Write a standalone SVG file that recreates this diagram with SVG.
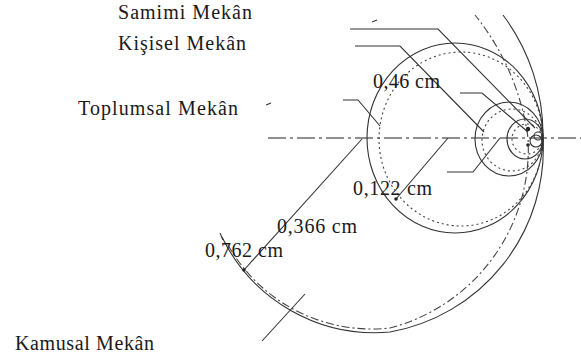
<svg xmlns="http://www.w3.org/2000/svg" width="581" height="362" viewBox="0 0 581 362">
<style>
.t{font-family:"Liberation Serif","Times New Roman",serif;font-size:20px;fill:#1a1a1a}
.s{fill:none;stroke:#333;stroke-width:1.1}
.d{fill:none;stroke:#444;stroke-width:1.1;stroke-dasharray:2 3}
.dd{fill:none;stroke:#444;stroke-width:1.1;stroke-dasharray:8 3 2 3}
.ax{fill:none;stroke:#222;stroke-width:1.2;stroke-dasharray:18 4 3 4}
</style>
<rect width="581" height="362" fill="#fff"/>
<g id="axis"><line class="ax" x1="268" y1="138" x2="581" y2="138"/></g>
<g id="circles">
<ellipse class="s" cx="455" cy="138" rx="88" ry="95"/>
<ellipse class="d" cx="461" cy="139" rx="82" ry="87"/>
<ellipse class="s" cx="509" cy="139" rx="34" ry="37"/>
<ellipse class="d" cx="512" cy="140" rx="30" ry="31"/>
<ellipse class="s" cx="525" cy="139" rx="18" ry="20"/>
<circle class="d" cx="527" cy="139" r="15"/>
<circle class="s" cx="536" cy="141" r="6"/>
<circle class="s" cx="538" cy="136" r="4"/>
<circle cx="528" cy="129" r="2.2" fill="#222"/>
<circle cx="528" cy="145" r="1.8" fill="#222"/>
<path class="s" d="M222,237 A170,170 0 0 0 390,332 A186,186 0 0 0 543,138 A200,200 0 0 0 503,15"/>
<path class="dd" d="M228,245 A165,165 0 0 0 390,328 A185,185 0 0 0 528,138 A250,250 0 0 0 475,15"/>
</g>
<g id="connectors">
<polyline class="s" points="350,29 438,29 535,128"/>
<polyline class="s" points="355,46 400,46 484,132"/>
<polyline class="s" points="460,93 482,93 528,132"/>
<polyline class="s" points="343,100 358,100 380,126"/>
<polyline class="s" points="500,138 473,172 447,172"/>
<line class="s" x1="362" y1="139" x2="244" y2="270"/>
<circle cx="244" cy="270" r="1.8" fill="#222"/>
<line class="s" x1="448" y1="138" x2="396" y2="199"/>
<circle cx="396" cy="199" r="1.8" fill="#222"/>
<line class="s" x1="262" y1="341" x2="305" y2="294"/>
<line class="s" x1="220" y1="233" x2="223" y2="240"/>
<line class="s" x1="266" y1="105" x2="271" y2="103"/>
<line class="s" x1="372" y1="22" x2="377" y2="20"/>
</g>
<g id="labels">
<text class="t" x="118" y="19" textLength="134" lengthAdjust="spacing">Samimi Mekân</text>
<text class="t" x="118" y="50" textLength="128" lengthAdjust="spacing">Kişisel Mekân</text>
<text class="t" x="78" y="115" textLength="160" lengthAdjust="spacing">Toplumsal Mekân</text>
<text class="t" x="15" y="350" textLength="139" lengthAdjust="spacing">Kamusal Mekân</text>
<text class="t" x="373" y="88" textLength="67" lengthAdjust="spacing">0,46 cm</text>
<text class="t" x="353" y="195" textLength="79" lengthAdjust="spacing">0,122 cm</text>
<text class="t" x="277" y="233" textLength="80" lengthAdjust="spacing">0,366 cm</text>
<text class="t" x="205" y="257" textLength="78" lengthAdjust="spacing">0,762 cm</text>
</g>
</svg>
